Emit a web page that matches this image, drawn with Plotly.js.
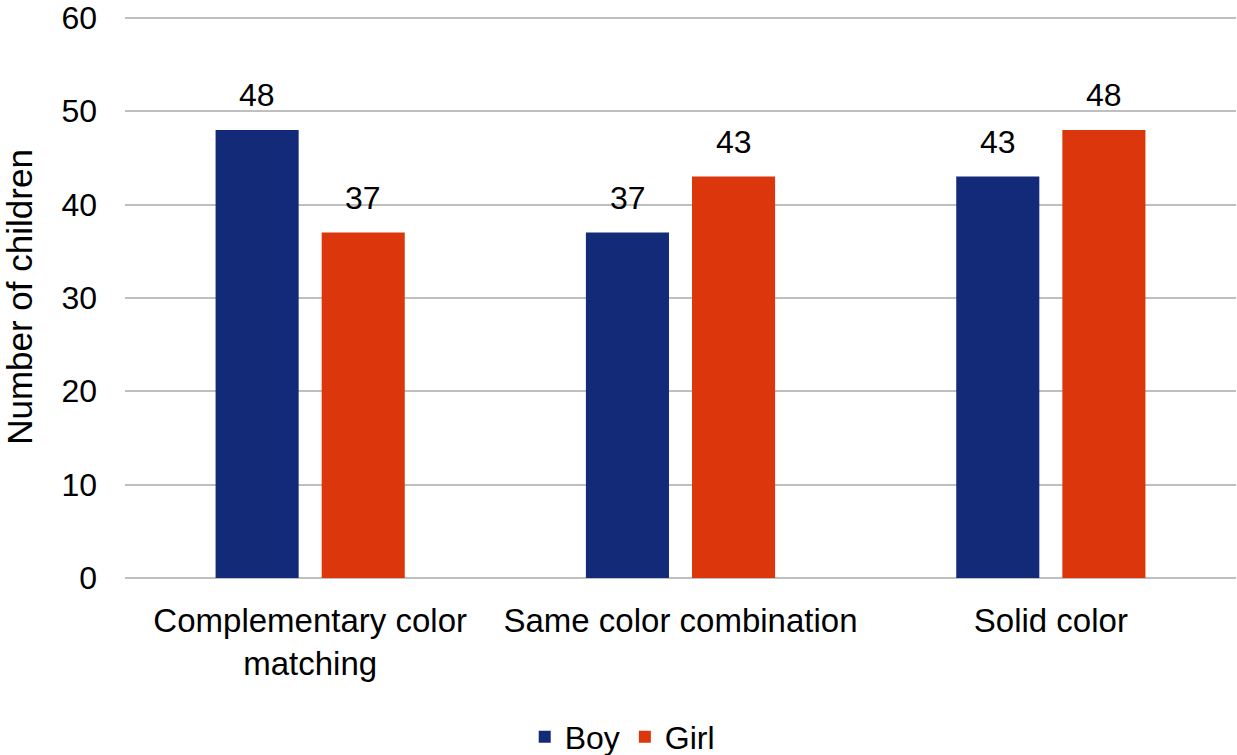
<!DOCTYPE html>
<html>
<head>
<meta charset="utf-8">
<script src="https://cdn.plot.ly/plotly-3.0.1.min.js"></script>
<style>html,body{margin:0;padding:0;background:#fff;}#chart{width:1237px;height:755px;}</style>
</head>
<body>
<div id="chart"></div>
<script>
const categories = ["Complementary color<br>matching", "Same color combination", "Solid color"];
const boyValues = [48, 37, 43];
const girlValues = [37, 43, 48];
const seriesNames = ["Boy", "Girl"];
const yTickVals = [0, 10, 20, 30, 40, 50, 60];

const FONT = "Liberation Sans, Arial, Helvetica, sans-serif";
const blue = "#132a78";
const red = "#dc360c";

const traces = [
  {type: "bar", name: seriesNames[0], x: categories, y: boyValues, marker: {color: blue}, hoverinfo: "none"},
  {type: "bar", name: seriesNames[1], x: categories, y: girlValues, marker: {color: red}, hoverinfo: "none"}
];

const annotations = [];
[boyValues, girlValues].forEach((vals, si) => {
  vals.forEach((v, i) => {
    annotations.push({
      xref: "x", yref: "y", x: categories[i], y: v, text: String(v),
      showarrow: false, yanchor: "bottom", xanchor: "center",
      xshift: si === 0 ? -53 : 53, yshift: 15,
      font: {family: FONT, size: 32, color: "#000"}
    });
  });
});

const layout = {
  width: 1237, height: 755,
  margin: {l: 125, r: 1, t: 16, b: 177},
  paper_bgcolor: "#fff", plot_bgcolor: "#fff",
  font: {family: FONT, color: "#000"},
  barmode: "group", bargap: 0.427, bargroupgap: 0.217,
  showlegend: true,
  legend: {orientation: "h", xref: "container", x: 0.503, xanchor: "center", yref: "container", y: 0.024, yanchor: "middle",
           font: {family: FONT, size: 32}, traceorder: "normal"},
  xaxis: {tickfont: {family: FONT, size: 33}, showgrid: false, zeroline: false, showline: false, ticks: "", ticklabelstandoff: 20, fixedrange: true},
  yaxis: {range: [0, 60.2], tickvals: yTickVals, tickfont: {family: FONT, size: 32}, showgrid: true, gridcolor: "#bfbfbf", gridwidth: 2,
          zeroline: true, zerolinecolor: "#bfbfbf", zerolinewidth: 2, showline: false, ticks: "", ticklabelstandoff: 27,
          ticklabeloverflow: "allow",
          title: {text: "Number of children", font: {family: FONT, size: 35}, standoff: 22}, fixedrange: true},
  annotations: annotations
};

Plotly.newPlot("chart", traces, layout, {displayModeBar: false, staticPlot: true});
</script>
</body>
</html>
